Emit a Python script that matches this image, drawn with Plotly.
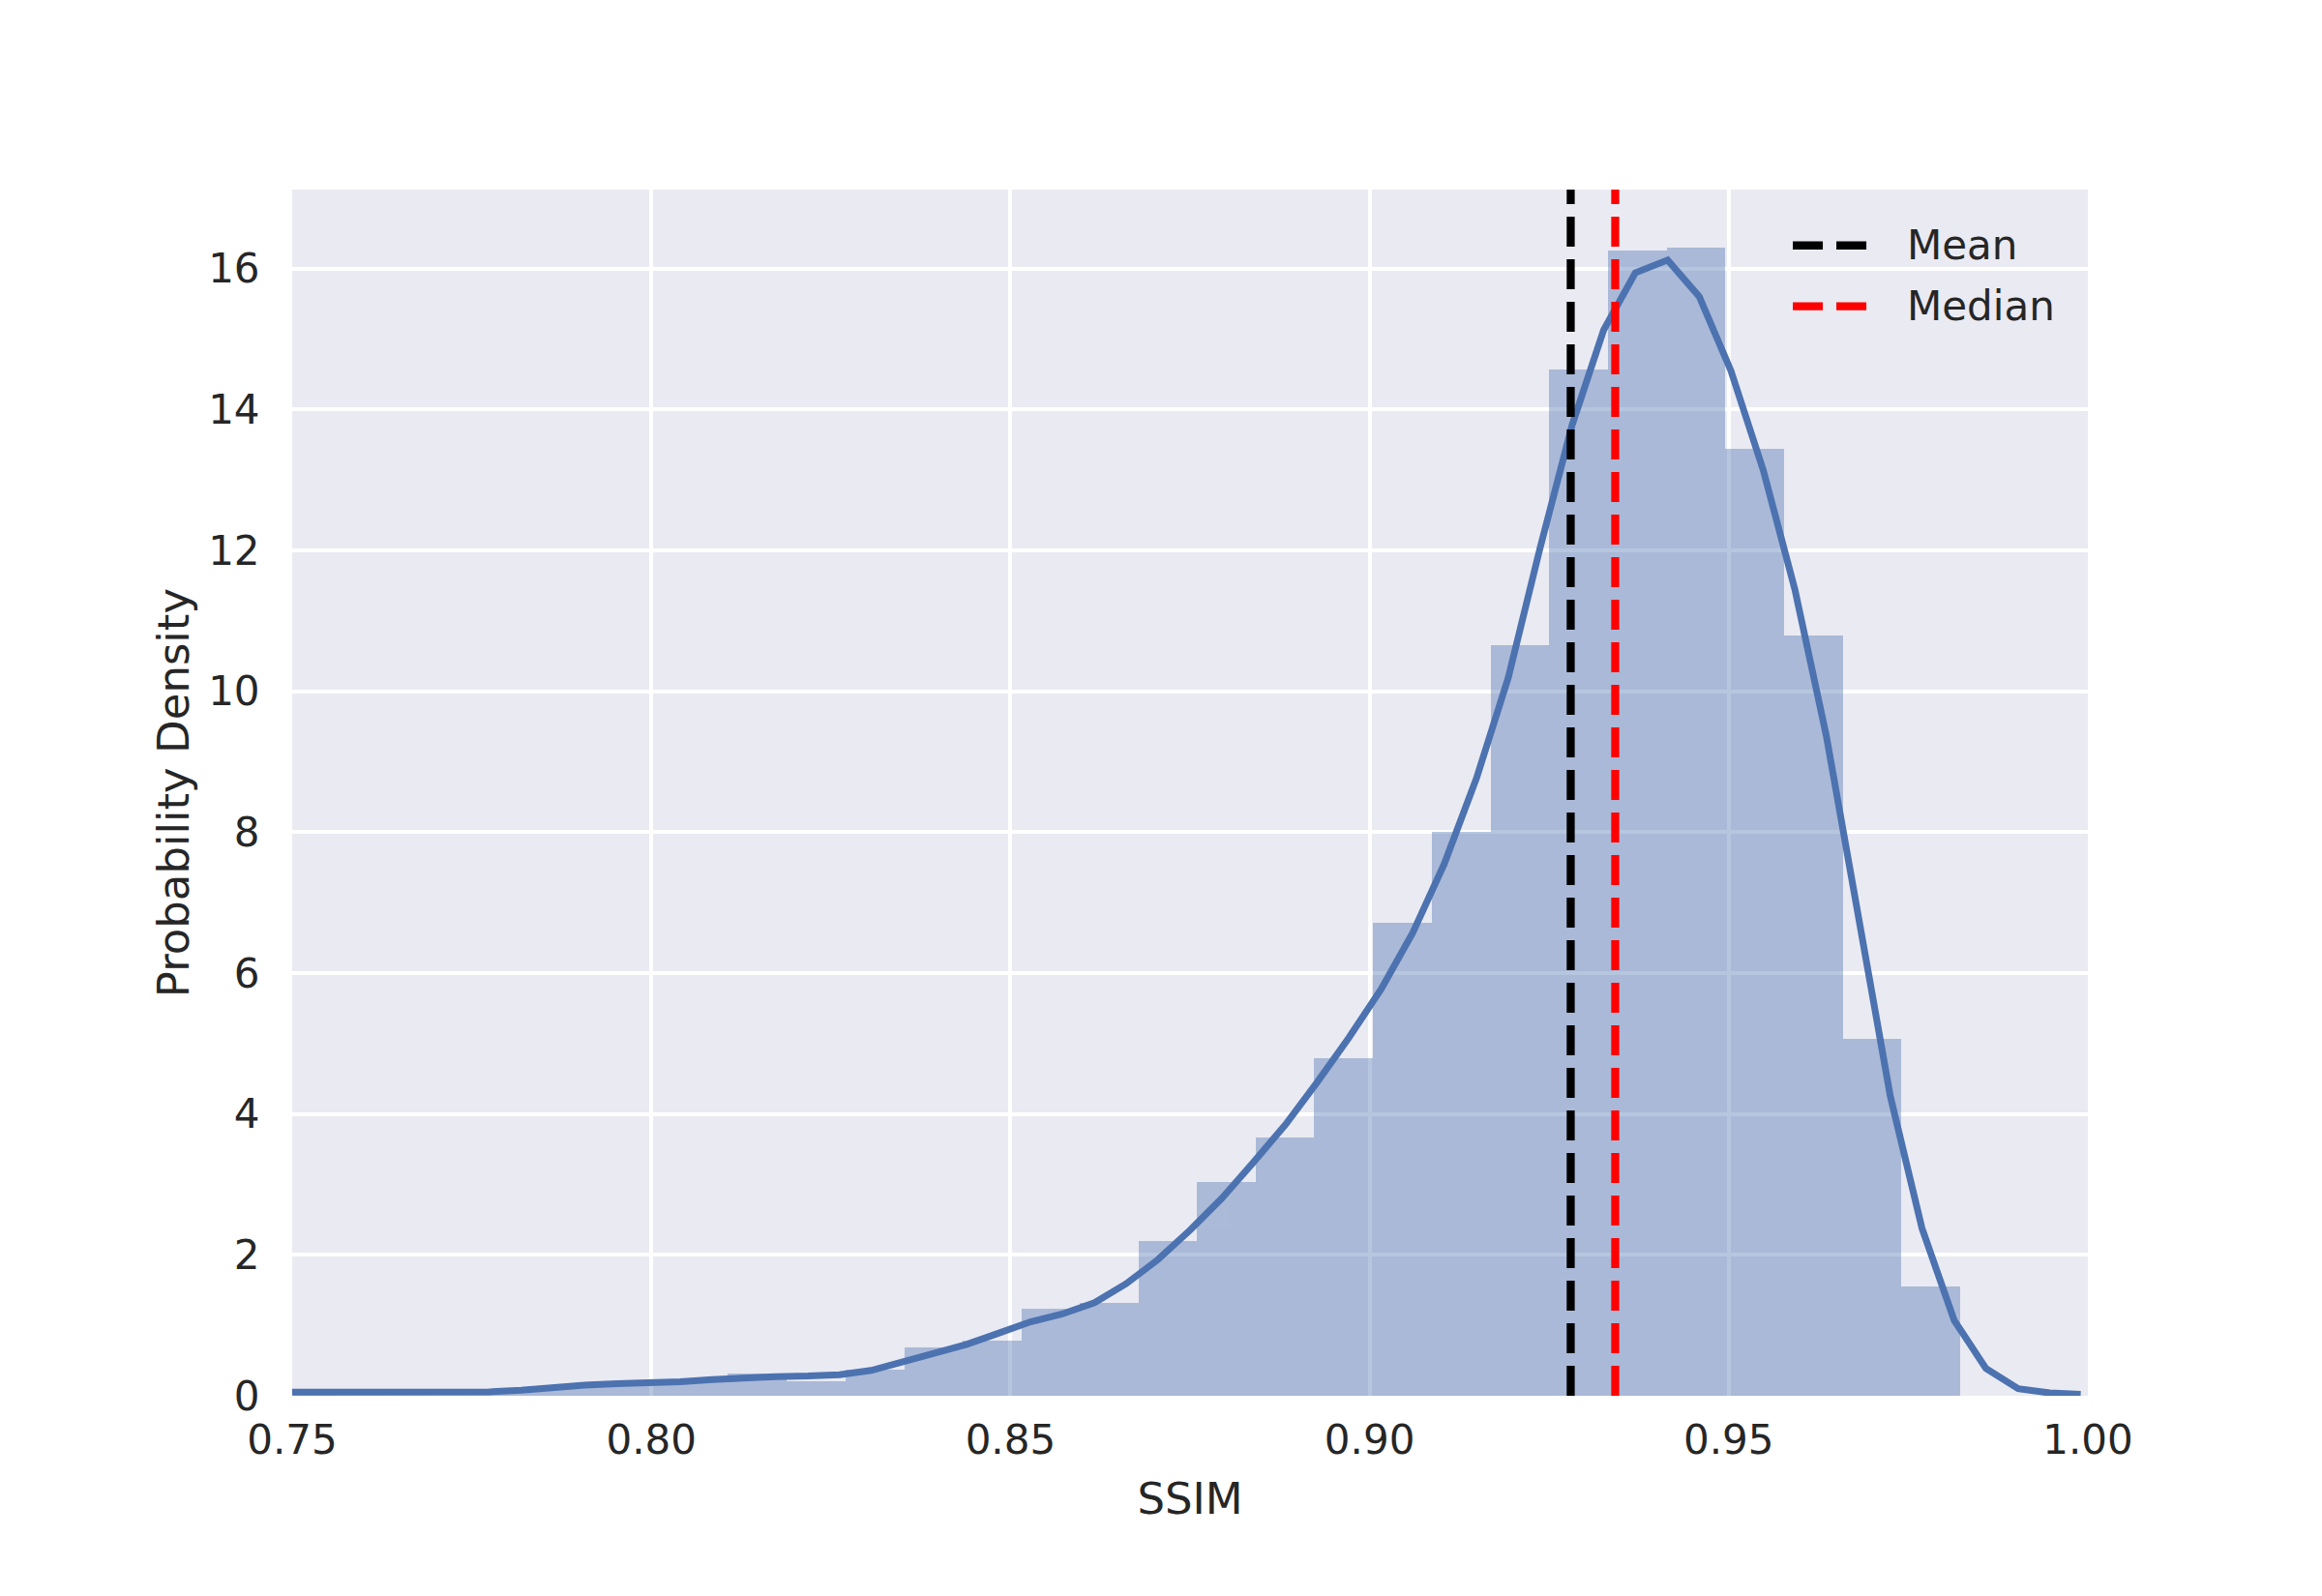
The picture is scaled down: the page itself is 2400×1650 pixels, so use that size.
import plotly.graph_objects as go

# histogram bin edges and density heights
bin_edges = [
    0.7453, 0.7535, 0.7616, 0.7698, 0.7780, 0.7861, 0.7943, 0.8025, 0.8106, 0.8188,
    0.8270, 0.8352, 0.8433, 0.8515, 0.8596, 0.8678, 0.8760, 0.8842, 0.8923, 0.9005,
    0.9087, 0.9169, 0.9250, 0.9332, 0.9414, 0.9495, 0.9577, 0.9659, 0.9740, 0.9822,
]
bin_density = [
    0.05, 0.04, 0.03, 0.03, 0.07, 0.13, 0.17, 0.19, 0.32, 0.21,
    0.37, 0.69, 0.78, 1.23, 1.32, 2.19, 3.04, 3.67, 4.79, 6.71,
    8.01, 10.66, 14.57, 16.25, 16.30, 13.44, 10.79, 5.07, 1.55,
]

# kernel density estimate curve
kde_x = [
    0.7464, 0.7508, 0.7553, 0.7597, 0.7641, 0.7686, 0.7730, 0.7774, 0.7819, 0.7863,
    0.7907, 0.7952, 0.7996, 0.8040, 0.8085, 0.8129, 0.8173, 0.8218, 0.8262, 0.8306,
    0.8351, 0.8395, 0.8439, 0.8484, 0.8528, 0.8572, 0.8617, 0.8661, 0.8705, 0.8750,
    0.8794, 0.8838, 0.8883, 0.8927, 0.8971, 0.9016, 0.9060, 0.9104, 0.9149, 0.9193,
    0.9237, 0.9282, 0.9326, 0.9370, 0.9415, 0.9459, 0.9503, 0.9548, 0.9592, 0.9636,
    0.9681, 0.9725, 0.9769, 0.9814, 0.9858, 0.9903, 0.9947, 0.9990,
]
kde_y = [
    0.05, 0.05, 0.045, 0.04, 0.04, 0.04, 0.045, 0.055, 0.08, 0.12,
    0.15, 0.17, 0.18, 0.20, 0.23, 0.26, 0.27, 0.28, 0.30, 0.36,
    0.48, 0.60, 0.73, 0.89, 1.05, 1.16, 1.32, 1.59, 1.93, 2.35,
    2.80, 3.31, 3.85, 4.45, 5.08, 5.77, 6.57, 7.55, 8.77, 10.19,
    12.02, 13.78, 15.13, 15.94, 16.12, 15.60, 14.55, 13.14, 11.45, 9.36,
    6.80, 4.25, 2.38, 1.07, 0.39, 0.10, 0.04, 0.02,
]

ssim_mean = 0.9280
ssim_median = 0.9342

x_ticks = [0.75, 0.80, 0.85, 0.90, 0.95, 1.00]
y_ticks = [0, 2, 4, 6, 8, 10, 12, 14, 16]

FONT = "DejaVu Sans"
TEXT = "#262626"
BLUE = "#4C72B0"

centers = [(a + b) / 2 for a, b in zip(bin_edges[:-1], bin_edges[1:])]
widths = [b - a for a, b in zip(bin_edges[:-1], bin_edges[1:])]

fig = go.Figure()

fig.add_trace(
    go.Bar(
        x=centers,
        y=bin_density,
        width=widths,
        marker=dict(color=BLUE, line=dict(width=0)),
        opacity=0.4,
        showlegend=False,
    )
)

fig.add_trace(
    go.Scatter(
        x=kde_x,
        y=kde_y,
        mode="lines",
        line=dict(color=BLUE, width=7),
        showlegend=False,
    )
)

# mean / median vertical lines
for val, col in [(ssim_mean, "black"), (ssim_median, "#FF0000")]:
    fig.add_shape(
        type="line",
        xref="x",
        yref="paper",
        x0=val,
        x1=val,
        y0=0,
        y1=1,
        line=dict(color=col, width=8.3, dash="31px,13px"),
    )

# legend drawn by hand so the dashed handle shows two dashes
legend_items = [("Mean", "black", 0.9537), ("Median", "#FF0000", 0.9033)]
for label, col, ypos in legend_items:
    fig.add_shape(
        type="line",
        xref="paper",
        yref="paper",
        x0=0.8357,
        x1=0.8772,
        y0=ypos,
        y1=ypos,
        line=dict(color=col, width=8.3, dash="31px,14px"),
    )
    fig.add_annotation(
        x=0.8981,
        y=ypos,
        xref="paper",
        yref="paper",
        text=label,
        showarrow=False,
        xanchor="left",
        yanchor="middle",
        font=dict(family=FONT, size=42, color=TEXT),
    )

# the page adds an 8px body margin, so the figure margins are shifted by it
fig.update_layout(
    width=2400,
    height=1650,
    margin=dict(l=294, r=250, t=188, b=215),
    paper_bgcolor="white",
    plot_bgcolor="#EAEAF2",
    bargap=0,
    showlegend=False,
    font=dict(family=FONT, size=42, color=TEXT),
    xaxis=dict(
        range=[0.75, 1.0],
        tickvals=x_ticks,
        ticktext=[f"{v:.2f}" for v in x_ticks],
        showgrid=True,
        gridcolor="white",
        gridwidth=4,
        zeroline=False,
        showline=False,
        ticks="outside",
        ticklen=0,
        ticklabelstandoff=9,
        tickfont=dict(family=FONT, size=42, color=TEXT),
        title=dict(text="SSIM", font=dict(family=FONT, size=45, color=TEXT), standoff=21),
        automargin=False,
    ),
    yaxis=dict(
        range=[0, 17.12],
        tickvals=y_ticks,
        showgrid=True,
        gridcolor="white",
        gridwidth=4,
        zeroline=False,
        showline=False,
        ticks="outside",
        ticklen=0,
        ticklabelstandoff=24,
        tickfont=dict(family=FONT, size=42, color=TEXT),
        title=dict(
            text="Probability Density",
            font=dict(family=FONT, size=45, color=TEXT),
            standoff=5,
        ),
        automargin=False,
    ),
)

fig.write_html("out.html")
